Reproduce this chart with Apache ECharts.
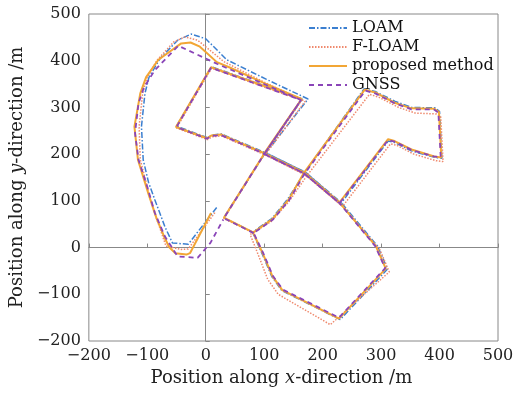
<!DOCTYPE html>
<html>
<head>
<meta charset="utf-8">
<script src="https://cdn.jsdelivr.net/npm/echarts@6/dist/echarts.min.js"></script>
<style>
  html, body { margin: 0; padding: 0; background: #fff; }
  #chart { width: 530px; height: 393px; }
</style>
</head>
<body>
<div id="chart"></div>
<script>
// Vehicle trajectories, positions in metres [x, y]
const seriesNames = ['LOAM', 'F-LOAM', 'proposed method', 'GNSS'];

const loamPath = [
  [82,32],[31,64],[101,201],[165,318],[10,387],[-50,260],[3,235],[11,241],[27,243],[102,203],[171,161],[232,96],
  [294,3],[311,-46],[230,-154],[130,-92],[113,-62],[96,-12],[80,33],
  [113,62],[141,105],[170,162],[271,340],[290,334],[324,313],[352,300],[393,299],[400,291],[404,191],[392,193],[352,207],[323,225],[312,228],[231,94],[172,160],[103,203],[175,318],
  [104,360],[36,402],[0,447],[-25,457],[-48,444],[-78,405],[-97,365],[-104,330],[-110,259],[-107,188],[-98,140],[-87,102],[-70,45],[-57,10],[-30,7],[20,88]
];

const floamPath = [
  [82,31],[31,62],[100,199],[164,315],[10,384],[-50,256],[3,231],[11,237],[27,239],[102,198],[171,155],[234,89],
  [298,-5],[314,-52],[213,-165],[124,-100],[106,-68],[90,-16],[76,28],
  [112,56],[142,98],[172,152],[280,328],[296,322],[330,300],[358,288],[395,286],[402,280],[406,184],[394,186],[356,200],[327,219],[316,222],[234,88],[171,155],[102,199],[170,313],
  [100,354],[31,398],[-14,444],[-36,451],[-55,440],[-84,400],[-101,362],[-108,330],[-114,259],[-112,188],[-100,130],[-92,90],[-78,40],[-68,3],[-42,-4],[-30,-3],[17,77]
];

const proposedPath = [
  [82,32],[31,64],[100,201],[164,318],[9,386],[-51,258],[2,234],[10,240],[26,242],[100,202],[168,160],[229,96],
  [291,3],[308,-45],[228,-152],[131,-91],[114,-61],[97,-11],[81,32],
  [114,61],[142,103],[168,160],[272,338],[290,332],[323,310],[352,298],[391,297],[399,290],[403,193],[391,195],[352,210],[323,228],[312,232],[229,97],[168,161],[100,202],[164,318],
  [100,352],[40,386],[19,397],[-10,430],[-26,439],[-42,437],[-81,402],[-102,365],[-112,330],[-122,259],[-116,188],[-98,115],[-84,62],[-70,20],[-62,0],[-52,-12],[-33,-15],[-27,-12],[9,74]
];

const gnssPath = [
  [82,31],[31,63],[100,200],[163,316],[9,385],[-50,258],[2,233],[10,239],[26,241],[100,201],[168,159],[229,95],
  [290,3],[307,-44],[228,-150],[132,-90],[115,-61],[98,-11],[82,31],
  [115,60],[143,102],[169,158],[273,336],[290,330],[323,309],[352,296],[390,296],[398,289],[402,193],[390,195],[352,209],[323,227],[312,230],[229,95],[168,159],[100,200],[163,316],
  [20,393],[-47,432],[-87,380],[-106,342],[-115,309],[-121,245],[-115,188],[-100,130],[-87,74],[-70,24],[-48,-19],[-14,-22],[8,10],[30,60]
];

const axisMin = -200;
const axisMax = 500;
const axisStep = 100;

const FONT = 'DejaVu Serif';
const minusFmt = v => String(v).replace('-', '\u2212');

const chart = echarts.init(document.getElementById('chart'), null, { renderer: 'canvas' });

const axisCommon = {
  type: 'value',
  min: axisMin,
  max: axisMax,
  interval: axisStep,
  nameLocation: 'middle',
  axisLine: { show: true, lineStyle: { color: '#888', width: 1 } },
  axisTick: { show: true, inside: true, length: 4, lineStyle: { color: '#888' } },
  splitLine: { show: false },
  axisLabel: { fontFamily: FONT, fontSize: 16, color: '#222', formatter: minusFmt }
};

const titleRich = { i: { fontFamily: FONT, fontSize: 18, fontStyle: 'italic', color: '#222' } };

function lineSeries(name, data, color, width, type) {
  return {
    name: name,
    type: 'line',
    data: data,
    symbol: 'none',
    showSymbol: false,
    smooth: false,
    animation: false,
    lineStyle: { color: color, width: width, type: type },
    itemStyle: { color: color }
  };
}

chart.setOption({
  animation: false,
  backgroundColor: '#fff',
  grid: {
    left: 83, right: 32, top: 14, bottom: 52,
    show: true, borderColor: '#888', borderWidth: 1
  },
  legend: {
    data: seriesNames,
    orient: 'vertical',
    left: 303,
    top: 15,
    itemWidth: 38,
    itemHeight: 12,
    itemGap: 3,
    itemStyle: { opacity: 0 },
    textStyle: { fontFamily: FONT, fontSize: 16, color: '#111' }
  },
  xAxis: Object.assign({}, axisCommon, {
    name: 'Position along {i|x}-direction /m',
    nameGap: 24,
    nameTextStyle: { fontFamily: FONT, fontSize: 18, color: '#222', padding: [0, 24, 0, 0], rich: titleRich },
    axisLabel: Object.assign({}, axisCommon.axisLabel, { margin: 7 })
  }),
  yAxis: Object.assign({}, axisCommon, {
    name: 'Position along {i|y}-direction /m',
    nameGap: 49,
    nameRotate: 90,
    nameTextStyle: { fontFamily: FONT, fontSize: 18, color: '#222', rich: titleRich },
    axisLabel: Object.assign({}, axisCommon.axisLabel, { margin: 8 })
  }),
  series: [
    lineSeries(seriesNames[0], loamPath, '#3b7fd0', 1.5, [6, 2, 1.5, 2]),
    lineSeries(seriesNames[1], floamPath, '#ef8a6e', 1.5, [1.5, 1.5]),
    lineSeries(seriesNames[2], proposedPath, '#f2a635', 2, 'solid'),
    lineSeries(seriesNames[3], gnssPath, '#8a45b8', 1.8, [5, 4])
  ]
});
</script>
</body>
</html>
